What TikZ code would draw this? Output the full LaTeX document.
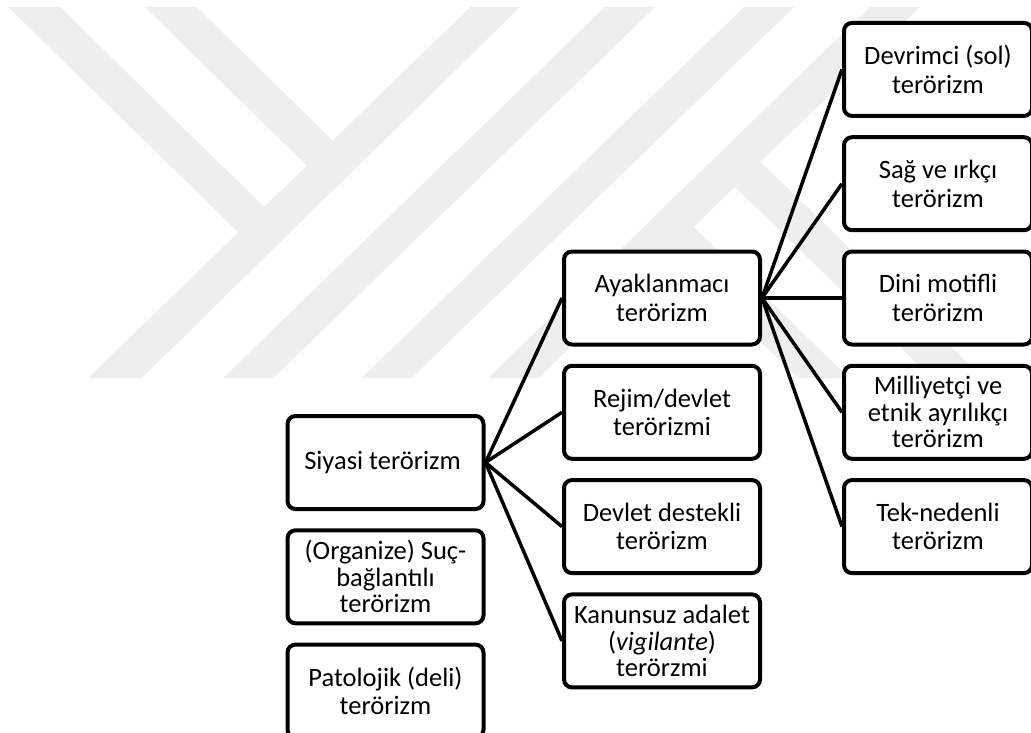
\documentclass[tikz,border=0pt]{standalone}
\usepackage{fontspec}
\setmainfont{Carlito}
\usetikzlibrary{positioning}
\definecolor{markgray}{RGB}{238,238,238}
\tikzset{
node distance=17.3pt and 80pt,
}

\begin{document}
\begin{tikzpicture}
    [x=1pt, y=-1pt,
    block/.style={draw, fill=white, line width=4pt, rounded corners=8pt,
        minimum width=196pt, minimum height=93pt, inner xsep=2pt,
        align=center, font=\fontsize{26.5}{28.5}\selectfont},
    narrow/.style={block, minimum width=188pt},
    dense/.style={font=\fontsize{26.5}{26.5}\selectfont},
    link/.style={line width=3.5pt}
    ]

    \useasboundingbox (0,0) rectangle (1031,733);

    % watermark
    \fill[markgray] (8.3,7) -- (60,7) -- (264.2,207.2) -- (306.9,165.7) -- (145,7)
        -- (196.7,7) -- (332.8,140.5) -- (470.4,7) -- (520,7) -- (141.7,378)
        -- (88.3,378) -- (238.2,232.4) -- cycle;
    \fill[markgray] (223.3,378) -- (273.3,378) -- (655,7) -- (605,7) -- cycle;
    \fill[markgray] (361.7,378) -- (411.7,378) -- (794,7) -- (744,7) -- cycle;
    \fill[markgray] (488.3,378) -- (538.3,378) -- (920,7) -- (870,7) -- cycle;
    \fill[markgray] (760.8,162) -- (983,378) -- (932,378) -- (735,187) -- cycle;
    \fill[markgray] (693.8,227) -- (849,378) -- (798,378) -- (668,252) -- cycle;

    \node [block] (siyasi) at (385.5,462.5)
    {
        Siyasi terörizm
    };

    \node [block, dense] (organize) [below=of siyasi]
    {
        (Organize) Suç-\\
        bağlantılı\\
        terörizm
    };

    \node [block] (patoloji) [below=of organize]
    {
        Patolojik (deli)\\
        terörizm
    };

    \node [block] (ayak) at (662,298)
    {
        Ayaklanmacı\\
        terörizm
    };

    \node [block] (rejim) [below=of ayak]
    {
        Rejim/devlet\\
        terörizmi
    };

    \node [block] (destek) [below=of rejim]
    {
        Devlet destekli\\
        terörizm
    };

    \node [block, dense] (kanun) [below=of destek]
    {
        Kanunsuz adalet\\
        (\textit{vigilante})\\
        terörzmi
    };

    \node [narrow] (dini) [right=of ayak]
    {
        Dini motifli\\
        terörizm
    };

    \node [narrow] (sag) [above=of dini]
    {
        Sağ ve ırkçı\\
        terörizm
    };

    \node [narrow] (devrimci) [above=of sag]
    {
        Devrimci (sol)\\
        terörizm
    };

    \node [narrow, dense] (milli) [below=of dini]
    {
        Milliyetçi ve\\
        etnik ayrılıkçı\\
        terörizm
    };

    \node [narrow] (tek) [below=of milli]
    {
        Tek-nedenli\\
        terörizm
    };

    \draw[link] (siyasi.east) -- (ayak.west);
    \draw[link] (siyasi.east) -- (rejim.west);
    \draw[link] (siyasi.east) -- (destek.west);
    \draw[link] (siyasi.east) -- (kanun.west);
    \draw[link] (ayak.east) -- (devrimci.west);
    \draw[link] (ayak.east) -- (sag.west);
    \draw[link] (ayak.east) -- (dini.west);
    \draw[link] (ayak.east) -- (milli.west);
    \draw[link] (ayak.east) -- (tek.west);

\end{tikzpicture}
\end{document}
